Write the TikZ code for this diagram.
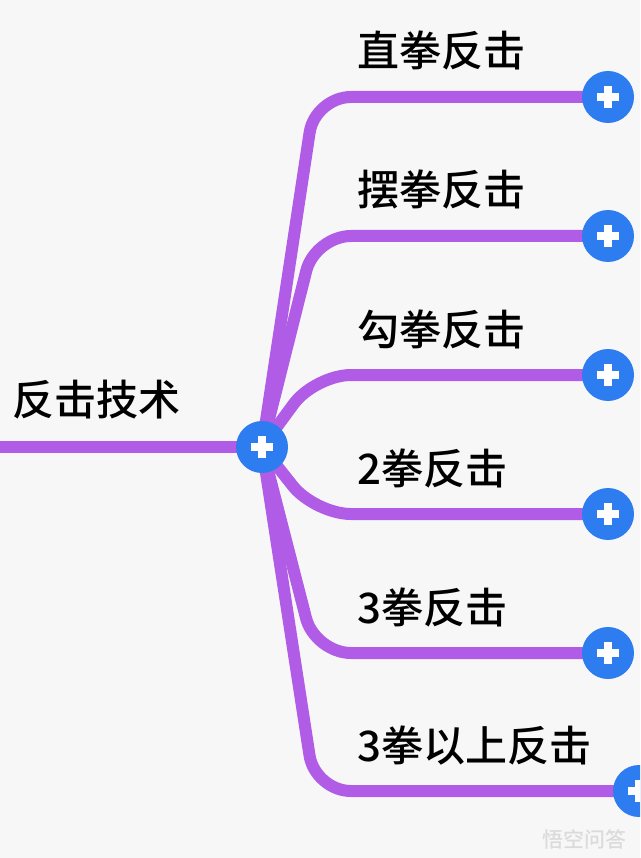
\documentclass[tikz,border=0pt]{standalone}
\usepackage{fontspec}
\setmainfont{Noto Sans CJK SC}[UprightFont=* Medium]
\definecolor{bgcol}{RGB}{247,247,248}
\definecolor{branchcol}{RGB}{176,92,230}
\definecolor{btnblue}{RGB}{45,124,240}
\tikzset{
  branch/.style={draw=branchcol, line width=12pt, rounded corners=36pt},
  plusbtn/.style={circle, fill=btnblue, minimum size=52pt, inner sep=0pt,
    path picture={
      \draw[white, line width=8pt]
        ([xshift=-11pt]path picture bounding box.center) -- ([xshift=11pt]path picture bounding box.center)
        ([yshift=-11pt]path picture bounding box.center) -- ([yshift=11pt]path picture bounding box.center);
    }},
  topic/.style={anchor=base west, inner sep=0pt, font=\fontsize{42}{42}\selectfont}
}

\begin{document}
\begin{tikzpicture}[x=1pt, y=-1pt]
  \clip (0,0) rectangle (640,858);
  \fill[bgcol] (0,0) rectangle (640,858);

  \coordinate (hub) at (262,447);
  \coordinate (lft) at (0,447);
  \draw[branch] (lft) -- (hub);
  \node[topic] (root) at (12,415) {反击技术};

  \foreach \y/\px/\txt [count=\i] in {97/608/直拳反击, 236/608/摆拳反击, 375/608/勾拳反击,
      514/608/2拳反击, 653/608/3拳反击, 791/639/3拳以上反击} {
    \coordinate (c\i) at (\px,\y);
    \draw[branch] (hub) -- (315,\y) -- (c\i);
    \node[topic] (t\i) at (357,\y-30) {\txt};
  }

  \node[plusbtn] (hubbtn) at (hub) {};
  \foreach \i in {1, 2, ..., 6} {
    \node[plusbtn] (b\i) at (c\i) {};
  }

  \node[anchor=base west, inner sep=0pt, text=black!14, font=\fontsize{21}{21}\selectfont] (wm) at (542,847) {悟空问答};
\end{tikzpicture}
\end{document}
